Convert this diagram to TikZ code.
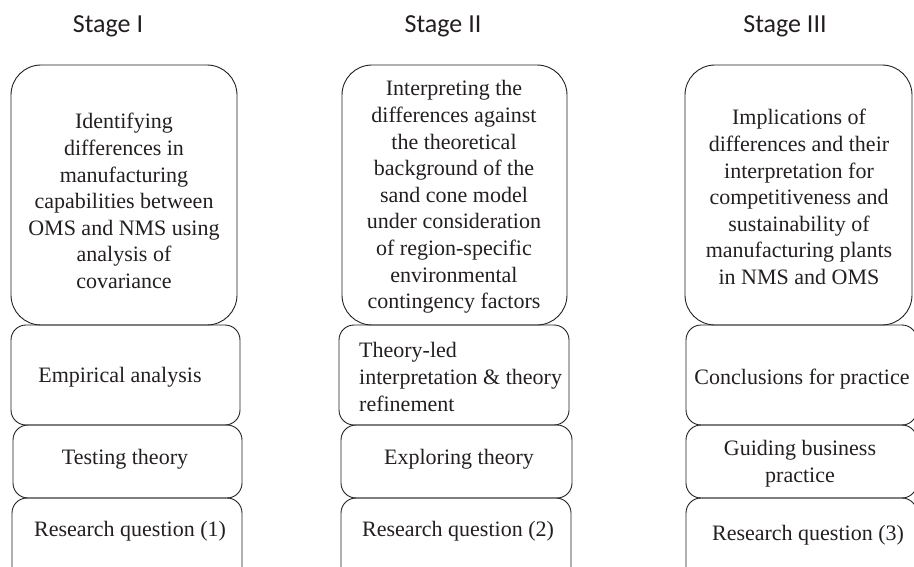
\documentclass[tikz,border=0pt]{standalone}
\usepackage{fontspec}
\setmainfont{Liberation Serif}
\newfontfamily\hdrfont{Carlito}
\definecolor{ink}{HTML}{231F20}
\begin{document}
\begin{tikzpicture}[x=1pt,y=-1pt,
  stagebox/.style={draw=ink, line width=0.9pt, rounded corners=#1, inner sep=0pt},
  stagebox/.default=15pt,
  txt/.style={text=ink, font=\fontsize{22}{26.6}\selectfont, align=center, inner sep=0pt},
  hdr/.style={text=ink, font=\hdrfont\fontsize{26}{30}\selectfont, inner sep=0pt, anchor=base}]
\useasboundingbox (0,0) rectangle (914,566);
\begin{scope}
\clip (0,0) rectangle (914,566);
% Column 1
\draw[stagebox=30pt] (11,65) rectangle (237,325);
\draw[stagebox] (11,325) rectangle (240,425);
\draw[stagebox] (13,425) rectangle (242,498);
\draw[stagebox] (12,498) rectangle (242,590);
% Column 2
\draw[stagebox=30pt] (342,65) rectangle (567,325);
\draw[stagebox] (339,325) rectangle (569,425);
\draw[stagebox] (341,425) rectangle (572,498);
\draw[stagebox] (341,498) rectangle (571,590);
% Column 3
\draw[stagebox=30pt] (685,65) rectangle (912,325);
\draw[stagebox] (686,325) rectangle (917,425);
\draw[stagebox] (686,425) rectangle (917,498);
\draw[stagebox] (686,498) rectangle (917,590);
\end{scope}
% Headers
\node[hdr] (h1) at (108,32) {Stage I};
\node[hdr] (h2) at (443,32) {Stage II};
\node[hdr] (h3) at (785,32) {Stage III};
% Column 1 texts
\node[txt] (t1a) at (124,201) {Identifying\\differences in\\manufacturing\\capabilities between\\OMS and NMS using\\analysis of\\covariance};
\node[txt] (t1b) at (120,377) {Empirical analysis};
\node[txt] (t1c) at (125,459) {Testing theory};
\node[txt] (t1d) at (130,531) {Research question (1)};
% Column 2 texts
\node[txt] (t2a) at (454,197) {Interpreting the\\differences against\\the theoretical\\background of the\\sand cone model\\under consideration\\of region-specific\\environmental\\contingency factors};
\node[txt, align=left, anchor=west] (t2b) at (359,377) {Theory-led\\interpretation \& theory\\refinement};
\node[txt] (t2c) at (459,459) {Exploring theory};
\node[txt] (t2d) at (458,531) {Research question (2)};
% Column 3 texts
\node[txt] (t3a) at (799,197) {Implications of\\differences and their\\interpretation for\\competitiveness and\\sustainability of\\manufacturing plants\\in NMS and OMS};
\node[txt] (t3b) at (802,379) {Conclusions for practice};
\node[txt] (t3c) at (800,464) {Guiding business\\practice};
\node[txt] (t3d) at (808,535) {Research question (3)};
\end{tikzpicture}
\end{document}
